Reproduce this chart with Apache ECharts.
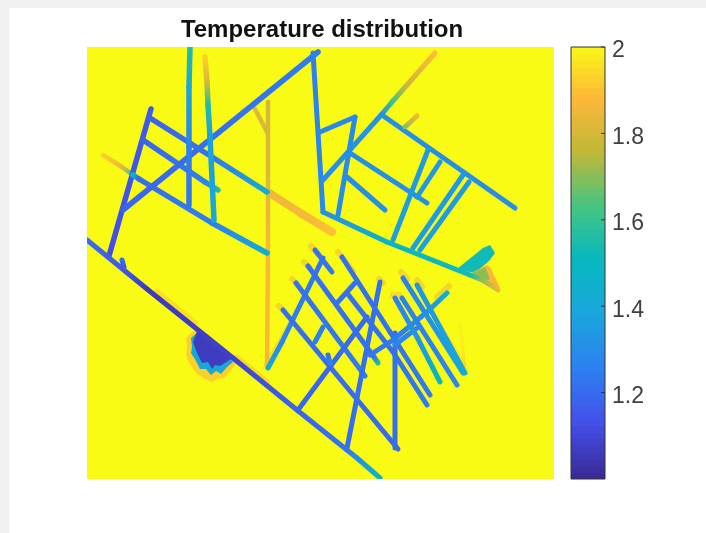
<!DOCTYPE html>
<html><head><meta charset="utf-8">
<style>
html,body{margin:0;padding:0;background:#fff;width:706px;height:533px;overflow:hidden}
#t{position:absolute;left:0;top:0;width:706px;height:8px;background:#f0f0f0}
#l{position:absolute;left:0;top:0;width:9px;height:533px;background:#f0f0f0}
#c{position:absolute;left:0;top:0;width:706px;height:533px;filter:blur(0.7px)}
</style></head><body><div id="t"></div><div id="l"></div><div id="c"></div>
<script src="https://cdn.jsdelivr.net/npm/echarts@6/dist/echarts.min.js"></script>
<script>
const titleText = 'Temperature distribution';
const tickLabels = [1.2, 1.4, 1.6, 1.8, 2];
const tempMin = 1, tempMax = 2;
const domainX = 467, domainY = 432;
// colour scale: [temperature, colour]
const parula = [[1,'#3a2a98'],[1.125,'#4350ea'],[1.25,'#2d80f0'],[1.375,'#1aa6dc'],[1.5,'#06b8c0'],[1.625,'#46c480'],[1.75,'#c0b838'],[1.875,'#fdb838'],[2,'#f9fb15']];

// fractures: polylines of [x, y, temperature]
const leftNetwork = [
 [[64,62,1.15],[22,209,1.12]],
 [[63,71,1.17],[125,110,1.23],[180,145,1.42]],
 [[56,93,1.18],[118,135,1.25],[131,143,1.55]],
 [[46,128,1.5],[52,132,1.2],[125,176,1.25],[180,206,1.42]],
 [[36,163,1.18],[231,5,1.24]],
 [[103,0,1.55],[102,40,1.38],[102,100,1.25],[102,158,1.22]],
 [[118,10,1.92],[120,35,1.8],[121,58,1.55],[123,90,1.35],[127,173,1.4]]
];
const warmFractures = [
 [[181,55,1.8],[181,145,1.82],[181,206,1.87],[180,320,1.87]],
 [[168,62,1.82],[180,85,1.8]],
 [[16,108,1.92],[35,120,1.84],[46,128,1.6]]
];
const warmBand = [[[181,145,1.85],[215,167,1.86],[245,185,1.89]]];
const upperNetwork = [
 [[226,6,1.25],[236,165,1.28]],
 [[233,85,1.28],[268,70,1.28],[251,168,1.3]],
 [[236,133,1.3],[295,67,1.32],[305,55,1.6],[320,38,1.78],[348,6,1.88]],
 [[295,68,1.3],[428,161,1.3]],
 [[318,80,1.7],[330,69,1.85]],
 [[263,106,1.3],[340,156,1.3]],
 [[260,130,1.3],[298,163,1.3]],
 [[341,103,1.33],[306,193,1.36]],
 [[353,115,1.33],[330,150,1.33]],
 [[376,128,1.33],[326,201,1.36]],
 [[382,135,1.33],[333,203,1.36]],
 [[236,165,1.3],[300,195,1.48],[383,228,1.52],[395,233,1.7],[411,243,1.85]]
];
const lattice = [
 [[181,321,1.42],[195,295,1.27],[236,211,1.22]],
 [[228,203,1.21],[245,225,1.23]],
 [[221,219,1.21],[287,310,1.21],[291,316,1.55]],
 [[209,236,1.21],[278,329,1.24]],
 [[196,263,1.21],[311,402,1.19]],
 [[255,210,1.21],[303,285,1.21],[343,348,1.24]],
 [[260,246,1.21],[306,305,1.21],[340,358,1.24]],
 [[250,256,1.21],[268,236,1.21]],
 [[211,363,1.18],[280,270,1.2]],
 [[260,401,1.2],[293,235,1.21]],
 [[308,286,1.21],[308,401,1.2]],
 [[228,295,1.25],[236,280,1.25]],
 [[241,308,1.21],[243,316,1.26]],
 [[283,308,1.23],[306,293,1.24],[340,265,1.3],[360,246,1.45]],
 [[308,298,1.27],[330,281,1.27]],
 [[308,251,1.25],[330,290,1.32],[353,335,1.5]],
 [[315,251,1.25],[370,338,1.27]],
 [[316,231,1.25],[376,326,1.38]],
 [[330,238,1.32],[378,326,1.4]]
];
const mainDiagonal = [
 [[0,193,1.2],[38,224,1.14],[60,242,1.05],[146,311,1.08],[210,363,1.18],[260,403,1.22],[270,411,1.3],[293,431,1.48]],
 [[35,213,1.2],[37,220,1.15]]
];
// warm halo around fractures and their tips
const haloLines = [
 [[70,245,1.9],[108,276,1.9]],
 [[150,311,1.88],[180,335,1.88]],
 [[180,318,1.9],[205,274,1.9]],
 [[224,199,1.85],[231,207,1.85]],[[217,215,1.85],[222,220,1.85]],[[205,232,1.85],[210,237,1.85]],
 [[192,259,1.85],[197,264,1.85]],[[251,205,1.85],[266,224,1.88]],[[292,232,1.85],[296,236,1.85]],
 [[314,225,1.85],[320,232,1.85]],[[330,233,1.85],[335,240,1.85]],[[306,248,1.88],[312,248,1.88]],
 [[350,250,1.85],[362,239,1.85]]
];
const faintHaloLines = [
 [[343,260,1.93],[378,318,1.9]],
 [[373,276,1.97],[378,320,1.9]],
 [[226,12,1.93],[228,50,1.95]]
];
// regions: polygons of [x, y] with one temperature each
const regionTemps = [1.92, 1.38, 1.06, 1.52, 1.87, 1.7];
const regionShapes = [
 [[108,283],[103,287],[99,291],[100,300],[99,308],[102,316],[106,322],[111,328],[117,331],[124,335],[131,332],[137,331],[143,324],[150,316],[140,308],[125,294]],
 [[110,286],[104,291],[105,300],[104,306],[109,314],[113,322],[119,322],[124,328],[129,324],[134,327],[140,320],[146,315],[128,297]],
 [[110,284],[106,295],[110,306],[115,316],[121,315],[125,322],[128,318],[133,319],[144,312],[123,293]],
 [[370,222],[396,201],[403,198],[408,206],[402,214],[388,226]],
 [[386,225],[400,218],[403,220],[413,241],[406,241]],
 [[385,226],[398,220],[403,232],[396,236]]
];

const segs = lines => lines.flatMap(p => p.slice(1).map((q,i) => [p[i][0],p[i][1],p[i][2],q[0],q[1],q[2]]));
function hex(c){return [1,3,5].map(i=>parseInt(c.substr(i,2),16));}
function tempColor(v){
  v=Math.max(tempMin,Math.min(tempMax,v));
  for(let i=1;i<parula.length;i++){
    if(v<=parula[i][0]){
      const a=parula[i-1],b=parula[i],t=(v-a[0])/(b[0]-a[0]),A=hex(a[1]),B=hex(b[1]);
      return 'rgb('+A.map((x,k)=>Math.round(x+(B[k]-x)*t)).join(',')+')';
    }
  }
  return parula[parula.length-1][1];
}
function lineLayer(lines,width,opacity,z){
  return {type:'custom',xAxisIndex:0,yAxisIndex:0,clip:true,z:z,silent:true,
    data:segs(lines),encode:{x:[0,3],y:[1,4]},
    renderItem:(params,api)=>{
      const a=api.coord([api.value(0),api.value(1)]),b=api.coord([api.value(3),api.value(4)]);
      return {type:'line',shape:{x1:a[0],y1:a[1],x2:b[0],y2:b[1]},
        style:{lineWidth:width,lineCap:'round',opacity:opacity,
          stroke:new echarts.graphic.LinearGradient(a[0],a[1],b[0]+0.01,b[1]+0.01,
            [{offset:0,color:tempColor(api.value(2))},{offset:1,color:tempColor(api.value(5))}],true)}};
    }};
}
function regionLayer(z){
  return {type:'custom',xAxisIndex:0,yAxisIndex:0,clip:true,z:z,silent:true,
    data:regionTemps.map((v,i)=>[regionShapes[i][0][0],regionShapes[i][0][1],v]),
    encode:{x:0,y:1},
    renderItem:(params,api)=>({type:'polygon',
      shape:{points:regionShapes[params.dataIndex].map(p=>api.coord(p))},
      style:{fill:tempColor(api.value(2))}})};
}
// colorbar levels run over the scale in 64 steps
const levelCount=64;
const levels=Array.from({length:levelCount},(_,i)=>tempMin+(tempMax-tempMin)*i/levelCount);
const chart=echarts.init(document.getElementById('c'),null,{renderer:'canvas'});
chart.setOption({
  animation:false,backgroundColor:'transparent',
  title:{text:titleText,left:317,top:13,textAlign:'center',
    textStyle:{fontFamily:'Liberation Sans',fontWeight:'bold',fontSize:24,color:'#111'}},
  grid:[
    {left:87,top:47,width:467,height:432,show:true,borderWidth:0,backgroundColor:tempColor(tempMax)},
    {left:571,top:47,width:34,height:432,show:false}
  ],
  xAxis:[
    {gridIndex:0,type:'value',min:0,max:domainX,show:false},
    {gridIndex:1,type:'value',min:0,max:1,show:false}
  ],
  yAxis:[
    {gridIndex:0,type:'value',min:0,max:domainY,inverse:true,show:false},
    {gridIndex:1,type:'value',min:tempMin,max:tempMax,interval:0.2,position:'right',z:10,
      axisLine:{show:false},splitLine:{show:false},axisTick:{show:false},
      axisLabel:{margin:7,customValues:tickLabels,
        formatter:v=>'{t|'+(+v.toFixed(1))+'}',
        rich:{t:{padding:[8,0,0,0],fontFamily:'Liberation Sans',fontSize:23,color:'#404040'}}}}
  ],
  series:[
    lineLayer(faintHaloLines,3,0.45,2),
    lineLayer(haloLines,6,0.55,2),
    regionLayer(3),
    lineLayer(warmBand,8,1,4),
    lineLayer(warmFractures,4.5,1,4),
    lineLayer(leftNetwork,5.5,1,5),
    lineLayer(upperNetwork,5,1,5),
    lineLayer(lattice,5,1,5),
    lineLayer(mainDiagonal,5,1,6),
    {type:'custom',xAxisIndex:1,yAxisIndex:1,z:3,silent:true,clip:true,
      data:levels.map(v=>[0,v,1,v+(tempMax-tempMin)/levelCount]),encode:{x:[0,2],y:[1,3]},
      renderItem:(params,api)=>{
        const a=api.coord([api.value(0),api.value(3)]),b=api.coord([api.value(2),api.value(1)]);
        return {type:'rect',shape:{x:a[0],y:Math.floor(a[1]),width:b[0]-a[0],height:Math.ceil(b[1]-a[1])+1},
          style:{fill:tempColor(api.value(1))}};
      }},
    {type:'custom',xAxisIndex:1,yAxisIndex:1,z:4,silent:true,
      data:[[0,tempMin,1,tempMax]],encode:{x:[0,2],y:[1,3]},
      renderItem:(params,api)=>{
        const a=api.coord([api.value(0),api.value(3)]),b=api.coord([api.value(2),api.value(1)]);
        return {type:'rect',shape:{x:a[0],y:a[1],width:b[0]-a[0],height:b[1]-a[1]},
          style:{fill:'none',stroke:'#333',lineWidth:1}};
      }},
    {type:'custom',xAxisIndex:1,yAxisIndex:1,z:4,silent:true,
      data:tickLabels.map(v=>[1,v]),encode:{x:0,y:1},
      renderItem:(params,api)=>{
        const a=api.coord([api.value(0),api.value(1)]);
        return {type:'line',shape:{x1:a[0]-4,y1:a[1],x2:a[0],y2:a[1]},style:{stroke:'#333',lineWidth:1}};
      }}
  ]
});
</script></body></html>
